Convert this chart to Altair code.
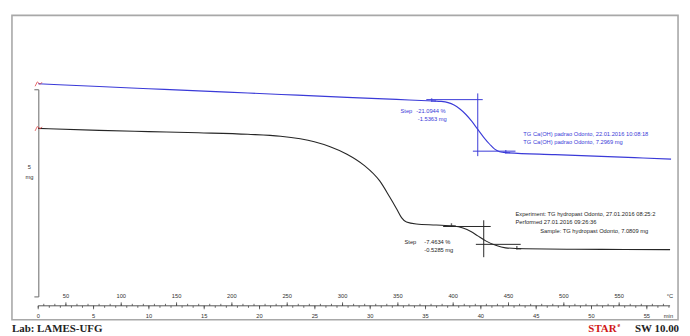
import altair as alt
import pandas as pd

# ---- curve data: time (min) vs displayed mass (mg, display offset) ----
blue_time = [0, 5.51, 9.99, 14.47, 18.95, 23.43, 27.90, 32.38, 35.70, 36.41, 37.04, 37.58, 38.11,
             38.65, 39.19, 39.72, 40.26, 40.80, 41.25, 41.70, 42.23, 46.71, 50.29, 53.88, 57.19]
blue_mass = [5.694, 5.627, 5.574, 5.522, 5.471, 5.419, 5.366, 5.316, 5.278, 5.268, 5.239, 5.179, 5.084,
             4.952, 4.785, 4.593, 4.402, 4.234, 4.115, 4.055, 4.031, 3.983, 3.947, 3.911, 3.876]
black_time = [0, 5.51, 9.99, 14.47, 18.95, 21.90, 24.95, 26.38, 27.90, 29.42, 30.86, 31.75, 32.38, 32.83,
              33.28, 34.17, 35.96, 37.49, 38.38, 39.10, 39.72, 40.44, 41.34, 42.23, 44.02, 48.50, 52.98, 57.10]
black_mass = [4.617, 4.569, 4.538, 4.510, 4.474, 4.426, 4.294, 4.175, 3.995, 3.732, 3.349, 2.967, 2.679, 2.464,
              2.356, 2.309, 2.285, 2.261, 2.213, 2.129, 2.022, 1.902, 1.794, 1.734, 1.711, 1.700, 1.694, 1.690]

# step evaluation (horizontal steps)
step_mid_time = [39.72, 40.26]
step_upper_mass = [5.311, 2.249]
step_lower_mass = [4.067, 1.818]
step_left_time = [35.07, 36.59]
step_right_time = [43.13, 43.60]
step_pct = ["-21.0944 %", "-7.4634 %"]
step_mg = ["-1.5363 mg", "-0.5285 mg"]
step_marker_time = [[35.70, 42.40], [37.49, 43.40]]

# axis labels
minute_labels = [0, 5, 10, 15, 20, 25, 30, 35, 40, 45, 50, 55]
temp_labels = [50, 100, 150, 200, 250, 300, 350, 400, 450, 500, 550]
start_temp = 25
heating_rate = 10  # K/min

BLUE = "#3a3ad8"
BLACK = "#262626"
FONT = "Liberation Sans"
FS = 5.8

xs = alt.Scale(domain=[-2.374, 57.82], nice=False, zero=False)
ys = alt.Scale(domain=[0, 7.344], nice=False, zero=False)


def X(f="t:Q"):
    return alt.X(f, scale=xs, axis=None)


def Y(f="m:Q"):
    return alt.Y(f, scale=ys, axis=None)


curves = pd.concat([
    pd.DataFrame({"t": blue_time, "m": blue_mass, "s": "blue"}),
    pd.DataFrame({"t": black_time, "m": black_mass, "s": "black"}),
])
line_colors = alt.Scale(domain=["blue", "black"], range=[BLUE, BLACK])

lines = alt.Chart(curves).mark_line(strokeWidth=1.1, interpolate="monotone").encode(
    x=X(), y=Y(),
    color=alt.Color("s:N", scale=line_colors, legend=None),
    detail="s:N",
)

starts = pd.DataFrame({"t": [blue_time[0], black_time[0]], "m": [blue_mass[0], black_mass[0]]})
start_marks = alt.Chart(starts).mark_point(
    shape="M -1 0.8 L -0.3 -0.6 L 0.6 0.2 L 1.2 -0.5", filled=False, color="#e03030", size=40, strokeWidth=1
).encode(x=X(), y=Y())

# step construction lines
cols = [BLUE, BLACK]
seg_rows = []
for i in range(2):
    seg_rows.append({"t": step_mid_time[i], "t2": step_mid_time[i],
                     "m": step_upper_mass[i] + 0.15,
                     "m2": step_lower_mass[i] - (0.12 if i == 0 else 0.31), "c": cols[i]})
    seg_rows.append({"t": step_left_time[i], "t2": step_mid_time[i] + (0.45 if i == 0 else 0.63),
                     "m": step_upper_mass[i], "m2": step_upper_mass[i], "c": cols[i]})
    seg_rows.append({"t": step_mid_time[i] - (0.44 if i == 0 else 0.71), "t2": step_right_time[i],
                     "m": step_lower_mass[i], "m2": step_lower_mass[i], "c": cols[i]})
segs = alt.Chart(pd.DataFrame(seg_rows)).mark_rule(strokeWidth=1).encode(
    x=X(), x2="t2:Q", y=Y(), y2="m2:Q",
    color=alt.Color("c:N", scale=None),
)

mk_rows = []
for i in range(2):
    curve_t = blue_time if i == 0 else black_time
    curve_m = blue_mass if i == 0 else black_mass
    for tm in step_marker_time[i]:
        j = min(range(len(curve_t)), key=lambda k: abs(curve_t[k] - tm))
        mk_rows.append({"t": tm, "m": curve_m[j], "c": cols[i]})
markers = alt.Chart(pd.DataFrame(mk_rows)).mark_point(
    shape="M -0.6 -1 L -0.6 0.4 M -0.6 0 L 1 0", filled=False, size=30, strokeWidth=1.4
).encode(x=X(), y=Y(), color=alt.Color("c:N", scale=None))

# text annotations (anchored in data units)
ann = pd.DataFrame([
    {"t": 32.74, "m": 5.048, "txt": "Step", "c": BLUE},
    {"t": 34.17, "m": 5.048, "txt": step_pct[0], "c": BLUE},
    {"t": 34.30, "m": 4.833, "txt": step_mg[0], "c": BLUE},
    {"t": 43.84, "m": 4.474, "txt": "TG Ca(OH) padrao Odonto, 22.01.2016 10:08:18", "c": BLUE},
    {"t": 43.84, "m": 4.294, "txt": "TG Ca(OH) padrao Odonto, 7.2969 mg", "c": BLUE},
    {"t": 43.13, "m": 2.560, "txt": "Experiment: TG hydropast Odonto, 27.01.2016 08:25:2", "c": BLACK},
    {"t": 43.13, "m": 2.368, "txt": "Performed 27.01.2016 09:26:36", "c": BLACK},
    {"t": 45.37, "m": 2.129, "txt": "Sample: TG hydropast Odonto, 7.0809 mg", "c": BLACK},
    {"t": 33.10, "m": 1.866, "txt": "Step", "c": BLACK},
    {"t": 34.89, "m": 1.866, "txt": step_pct[1], "c": BLACK},
    {"t": 34.89, "m": 1.690, "txt": step_mg[1], "c": BLACK},
])
ann_text = alt.Chart(ann).mark_text(align="left", baseline="middle", fontSize=FS, font=FONT, clip=True).encode(
    x=X(), y=Y(), text="txt:N", color=alt.Color("c:N", scale=None)
)

# 5 mg scale bar
bar_bottom, bar_len = 0.55, 5.0
bar_rows = [
    {"t": 0.05, "t2": 0.05, "m": bar_bottom, "m2": bar_bottom + bar_len},
    {"t": -0.35, "t2": 0.05, "m": bar_bottom, "m2": bar_bottom},
    {"t": -0.35, "t2": 0.05, "m": bar_bottom + bar_len, "m2": bar_bottom + bar_len},
]
bar = alt.Chart(pd.DataFrame(bar_rows)).mark_rule(color="#808080", strokeWidth=1.2).encode(
    x=X(), x2="t2:Q", y=Y(), y2="m2:Q"
)
bar_lbl = alt.Chart(pd.DataFrame({"t": [-0.8, -0.8], "m": [3.684, 3.445], "txt": ["5", "mg"]})).mark_text(
    fontSize=FS, font=FONT, color="#333"
).encode(x=X(), y=Y(), text="txt:N")

# x axis (drawn): line, minute ticks below, temperature ticks above
AX_Y = 293
axis_line = alt.Chart(pd.DataFrame({"t": [0], "t2": [57.1]})).mark_rule(color="#444", strokeWidth=0.9).encode(
    x=X(), x2="t2:Q", y=alt.value(AX_Y)
)
min_minor = alt.Chart(pd.DataFrame({"t": list(range(0, 58))})).mark_rule(color="#444", strokeWidth=0.8).encode(
    x=X(), y=alt.value(AX_Y), y2=alt.value(AX_Y + 2)
)
min_major = alt.Chart(pd.DataFrame({"t": minute_labels})).mark_rule(color="#444", strokeWidth=0.8).encode(
    x=X(), y=alt.value(AX_Y), y2=alt.value(AX_Y + 3.5)
)
temp_ticks = list(range(30, 600, 10))
t_minor = alt.Chart(pd.DataFrame({"t": [(T - start_temp) / heating_rate for T in temp_ticks]})).mark_rule(
    color="#444", strokeWidth=0.8).encode(x=X(), y=alt.value(AX_Y - 2), y2=alt.value(AX_Y))
t_major = alt.Chart(pd.DataFrame({"t": [(T - start_temp) / heating_rate for T in temp_labels]})).mark_rule(
    color="#444", strokeWidth=0.8).encode(x=X(), y=alt.value(AX_Y - 3.5), y2=alt.value(AX_Y))
min_txt = alt.Chart(pd.DataFrame({"t": minute_labels, "txt": [str(v) for v in minute_labels]})).mark_text(
    fontSize=FS, font=FONT, color="#333", baseline="middle").encode(
    x=X(), y=alt.value(AX_Y + 10), text="txt:N")
temp_txt = alt.Chart(pd.DataFrame({"t": [(T - start_temp) / heating_rate for T in temp_labels],
                                   "txt": [str(v) for v in temp_labels]})).mark_text(
    fontSize=FS, font=FONT, color="#333", baseline="middle").encode(
    x=X(), y=alt.value(AX_Y - 10), text="txt:N")
unit_c = alt.Chart(pd.DataFrame({"txt": ["°C"]})).mark_text(
    fontSize=FS, font=FONT, color="#333", baseline="middle", align="right").encode(
    x=alt.value(667), y=alt.value(AX_Y - 10), text="txt:N")
unit_m = alt.Chart(pd.DataFrame({"txt": ["min"]})).mark_text(
    fontSize=FS, font=FONT, color="#333", baseline="middle", align="right").encode(
    x=alt.value(667), y=alt.value(AX_Y + 10), text="txt:N")

# footer
SERIF = "Liberation Serif"
lab = alt.Chart(pd.DataFrame({"txt": ["Lab: LAMES-UFG"]})).mark_text(
    align="left", baseline="middle", font=SERIF, fontWeight="bold", fontSize=11, color="#222").encode(
    x=alt.value(0), y=alt.value(316), text="txt:N")
star = alt.Chart(pd.DataFrame({"txt": ["STAR"]})).mark_text(
    align="right", baseline="middle", font=SERIF, fontWeight="bold", fontSize=11, color="#d01818").encode(
    x=alt.value(610), y=alt.value(316), text="txt:N")
star_e = alt.Chart(pd.DataFrame({"txt": ["e"]})).mark_text(
    align="left", baseline="middle", font=SERIF, fontWeight="bold", fontSize=6, color="#d01818").encode(
    x=alt.value(611), y=alt.value(312), text="txt:N")
sw = alt.Chart(pd.DataFrame({"txt": ["SW  10.00"]})).mark_text(
    align="right", baseline="middle", font=SERIF, fontWeight="bold", fontSize=11, color="#222").encode(
    x=alt.value(673), y=alt.value(316), text="txt:N")

chart = alt.layer(
    bar, bar_lbl, segs, lines, start_marks, markers, ann_text,
    axis_line, min_minor, min_major, t_minor, t_major, min_txt, temp_txt, unit_c, unit_m,
    lab, star, star_e, sw,
).properties(
    width=672, height=307, autosize="none",
    padding={"left": 4, "top": 6, "right": 4, "bottom": 14},
    background="white",
).configure_view(stroke="#a8a8a8", strokeWidth=1.6)

chart.save("out.html", embed_options={"renderer": "svg", "actions": False})
